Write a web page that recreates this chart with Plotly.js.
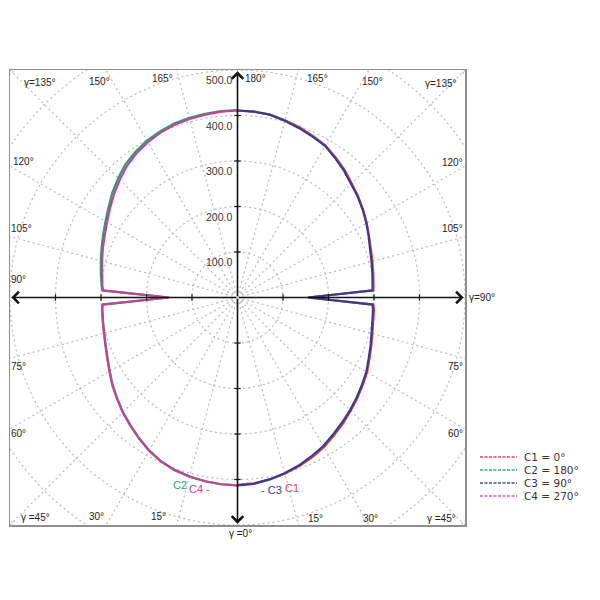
<!DOCTYPE html>
<html><head><meta charset="utf-8">
<script src="https://cdn.plot.ly/plotly-3.0.1.min.js"></script>
<style>html,body{margin:0;padding:0;background:#fff}#chart{width:600px;height:600px}</style>
</head><body><div id="chart"></div>
<script>
// gamma angles (degrees) shared by all C-planes
const gamma = [0,5,10,15,20,25,30,35,40,45,50,55,60,65,70,75,80,85,87,90,93,95,100,105,110,115,120,125,130,135,140,145,150,155,160,165,170,175,180];
// luminous intensity per C-plane
const c1 = [412,410,406,401,395,388,380,370,361,352,344,336,329,320,313,307,303,301,299,155,299,300,303,307,312,319,328,337,346,355,366,376,386,392,398,403,408,410,411];
const c2 = [413,412,410,407,403,397,388,377,366,356,345,335,324,315,308,303,300,298,297,150,297,300,305,311,318,326,335,346,359,371,383,391,398,403,407,409,410,411,412];
const c3 = [413,411,406,400,393,385,377,367,358,350,342,334,327,318,311,305,301,299,297,155,297,298,301,305,310,318,327,336,345,353,364,374,385,390,396,402,408,410,411];
const c4 = [413,412,410,408,404,398,389,378,367,357,346,336,325,316,309,304,301,299,297,152,296,298,302,308,315,322,331,342,354,366,378,387,394,400,404,406,408,410,411];
const seriesNames = ["C1 = 0°","C2 = 180°","C3 = 90°","C4 = 270°"];
const seriesColors = ["#e0403c","#2a9e6a","#383c8c","#c0449a"];
const legendColors = ["#e04858","#30b070","#4a4a9c","#d060c0"];
const radialTicks = [100,200,300,400,500];
const gridRadii = [100,200,300,400,500,600,700];
const axisTicks = [-400,-300,-200,-100,100,200,300,400];

// plot box in pixels
const L=10, T=70, W=455, H=455;
const pxX = x => (x-L)/W, pxY = y => 1-(y-T)/H;

const traces = [
  {type:'scatter', x:[], y:[], showlegend:false, hoverinfo:'skip'},
  {type:'scatterpolar', subplot:'polar', r:c1, theta:gamma, mode:'lines', name:seriesNames[0], line:{color:seriesColors[0], width:2.2}, showlegend:false},
  {type:'scatterpolar', subplot:'polar2', r:c2, theta:gamma, mode:'lines', name:seriesNames[1], line:{color:seriesColors[1], width:2.2}, showlegend:false},
  {type:'scatterpolar', subplot:'polar', r:c3, theta:gamma, mode:'lines', name:seriesNames[2], line:{color:seriesColors[2], width:2.2}, showlegend:false},
  {type:'scatterpolar', subplot:'polar2', r:c4, theta:gamma, mode:'lines', name:seriesNames[3], line:{color:seriesColors[3], width:2.2}, showlegend:false}
];

const shapes = [];
const gridLine = {color:'#b9b9b9', width:1.2, dash:'2px,3px'};
gridRadii.forEach(r => shapes.push({type:'circle', xref:'x', yref:'y', x0:-r, y0:-r, x1:r, y1:r, line:gridLine, layer:'below'}));
for (let a=0; a<360; a+=15) {
  const rad = a*Math.PI/180;
  shapes.push({type:'line', xref:'x', yref:'y', x0:0, y0:0, x1:900*Math.sin(rad), y1:900*Math.cos(rad), line:gridLine, layer:'below'});
}
axisTicks.forEach(v => {
  shapes.push({type:'line', xref:'x', yref:'y', x0:v, x1:v, y0:-7, y1:7, line:{color:'#111', width:1.2}, layer:'above'});
  shapes.push({type:'line', xref:'x', yref:'y', y0:v, y1:v, x0:-7, x1:7, line:{color:'#111', width:1.2}, layer:'above'});
});
// legend samples
const legY = [457,470,483,496];
legendColors.forEach((c,i) => shapes.push({type:'line', xref:'paper', yref:'paper', x0:pxX(480), x1:pxX(517), y0:pxY(legY[i]), y1:pxY(legY[i]), line:{color:c, width:1.5, dash:'3px,1.5px'}}));

const annotations = [];
const arrowTips = [[497,0],[-497,0],[0,497],[0,-497]];
arrowTips.forEach(p => annotations.push({x:p[0], y:p[1], ax:0, ay:0, xref:'x', yref:'y', axref:'x', ayref:'y', text:'', showarrow:true, arrowhead:4, arrowsize:1.4, arrowwidth:1.6, arrowcolor:'#111', standoff:0, startstandoff:0}));
radialTicks.forEach(v => annotations.push({x:0, y:v, xref:'x', yref:'y', text:v.toFixed(1), showarrow:false, xanchor:'right', yanchor:'middle', xshift:-4, yshift:-10, font:{family:'Liberation Sans, Arial, sans-serif', size:10.5, color:'#333'}}));

const angleLabels = [
  ["γ=135°",40,82],["150°",99,81],["165°",162,78],["180°",256,78],["165°",317,78],["150°",372,81],["γ=135°",441,83],
  ["120°",23,162],["105°",21,228],["90°",18,279],["75°",18,366],["60°",18,433],
  ["120°",452,163],["105°",452,228],["75°",455,366],["60°",455,433],["γ=90°",482,297],
  ["γ =45°",35,517],["30°",96,516],["15°",158,516],["15°",315,518],["30°",370,518],["γ =45°",441,518],["γ =0°",240,533]
];
angleLabels.forEach(l => annotations.push({x:pxX(l[1]), y:pxY(l[2]), xref:'paper', yref:'paper', text:l[0], showarrow:false, xanchor:'center', yanchor:'middle', font:{family:'Liberation Sans, Arial, sans-serif', size:10, color:'#222'}}));

const curveLabels = [["C2",180,485,1],["C4 -",199,489,3],["- C3",271,490,2],["C1",292,488,0]];
curveLabels.forEach(l => annotations.push({x:pxX(l[1]), y:pxY(l[2]), xref:'paper', yref:'paper', text:l[0], showarrow:false, xanchor:'center', yanchor:'middle', font:{family:'Liberation Sans, Arial, sans-serif', size:11, color:seriesColors[l[3]]}}));

seriesNames.forEach((n,i) => annotations.push({x:pxX(522), y:pxY(legY[i]), xref:'paper', yref:'paper', text:n, showarrow:false, xanchor:'left', yanchor:'middle', font:{family:'DejaVu Sans, sans-serif', size:10.5, color:'#333'}}));

const polarBase = dir => ({domain:{x:[0,1], y:[0,1]}, bgcolor:'rgba(0,0,0,0)',
  radialaxis:{range:[0,500], visible:false, showgrid:false},
  angularaxis:{rotation:270, direction:dir, visible:false, showgrid:false}});

const axisBase = {range:[-500,500], showgrid:false, zeroline:false, showticklabels:false, ticks:'', showline:true, mirror:true, linecolor:'#8f8f8f', linewidth:1.5, fixedrange:true};

const layout = {
  width:600, height:600, margin:{l:L, r:600-L-W, t:T, b:600-T-H},
  paper_bgcolor:'#fff', plot_bgcolor:'#fff', showlegend:false,
  xaxis:Object.assign({}, axisBase), yaxis:Object.assign({}, axisBase),
  polar:polarBase('counterclockwise'), polar2:polarBase('clockwise'),
  shapes:shapes, annotations:annotations
};
Plotly.newPlot('chart', traces, layout, {staticPlot:true, displayModeBar:false});
</script></body></html>
